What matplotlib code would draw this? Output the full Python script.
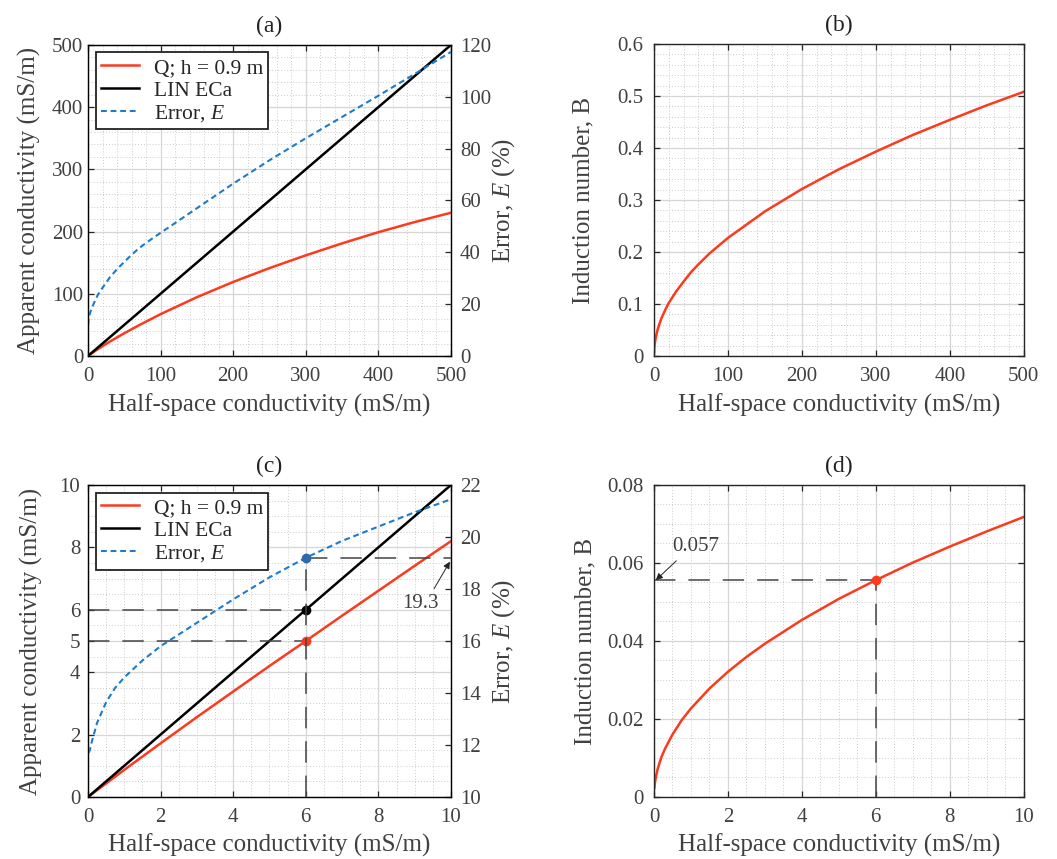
import matplotlib
matplotlib.use("Agg")
import matplotlib.pyplot as plt
from matplotlib.ticker import MultipleLocator, FixedLocator

# ---------------- data ----------------
# Panel (a): wide range 0-500 mS/m
sig_a = [0, 5, 10, 20, 30, 40, 50, 70, 100, 150, 200, 250, 300, 350, 400, 450, 500]
q_a = [0, 4.2, 8.2, 15.8, 23.0, 29.9, 36.55, 49.25, 67.25, 94.5, 119.0, 141.25, 161.75,
       181.0, 199.0, 215.25, 230.25]
lin_a_sig = [0, 500]
lin_a = [0, 500]
sig_err_a = [0.2, 1, 2, 5, 10, 14, 20, 30, 40, 50, 60, 70, 80, 90, 100, 150, 200, 250,
             300, 350, 400, 450, 500]
err_a = [12.0, 14.6, 15.8, 18.4, 21.5, 23.8, 26.3, 30.3, 33.5, 36.3, 39.0, 41.5, 43.6,
         45.6, 47.5, 57.0, 66.5, 75.5, 84.0, 92.2, 100.4, 108.8, 117.3]

# Panel (b): induction number 0-500 mS/m
sig_b = [0.1, 0.5, 1, 2, 3, 5, 7.5, 10, 15, 20, 30, 40, 50, 60, 75, 100, 150, 200, 250,
         300, 350, 400, 450, 500]
b_b = [0.007, 0.016, 0.023, 0.032, 0.039, 0.051, 0.062, 0.072, 0.088, 0.102, 0.124,
       0.143, 0.161, 0.176, 0.197, 0.227, 0.278, 0.321, 0.359, 0.393, 0.425, 0.454,
       0.482, 0.508]

# Panel (c): low range 0-10 mS/m
sig_c = [0, 1, 2, 3, 4, 5, 6, 7, 8, 9, 10]
q_c = [0, 0.87, 1.72, 2.56, 3.38, 4.2, 5.0, 5.81, 6.61, 7.41, 8.2]
lin_c_sig = [0, 10]
lin_c = [0, 10]
sig_err_c = [0.02, 0.05, 0.1, 0.25, 0.5, 0.75, 1, 1.5, 2, 2.5, 3, 3.5, 4, 5, 6, 7, 8, 9, 10]
err_c = [11.7, 11.8, 12.1, 12.85, 13.65, 14.2, 14.6, 15.25, 15.8, 16.25, 16.7, 17.15,
         17.6, 18.45, 19.2, 19.85, 20.4, 20.95, 21.45]

# Panel (d): induction number 0-10 mS/m
sig_d = [0.01, 0.025, 0.05, 0.1, 0.2, 0.3, 0.5, 0.75, 1, 1.5, 2, 2.5, 3, 4, 5, 6, 7, 8, 9, 10]
b_d = [0.0023, 0.0036, 0.005, 0.0072, 0.0102, 0.0124, 0.016, 0.0197, 0.0227, 0.0278,
       0.0321, 0.0359, 0.0393, 0.0454, 0.0508, 0.0556, 0.0601, 0.0642, 0.0681, 0.0718]

# highlighted point
sig_pt = 6
q_pt = 5
lin_pt = 6
err_pt = 19.2
b_pt = 0.0556
err_label = "19.3"
b_label = "0.057"

ticks_c_left = [0, 2, 4, 5, 6, 8, 10]

# ---------------- style ----------------
plt.rcParams['font.family'] = ['Liberation Serif', 'DejaVu Serif']
plt.rcParams['mathtext.fontset'] = 'custom'
plt.rcParams['mathtext.rm'] = 'Liberation Serif'
plt.rcParams['mathtext.it'] = 'Liberation Serif:italic'

RED = '#fc3b1e'
BLUE = '#1f7bc9'
TXT = '#404040'
DASHC = '#444444'
TICK_FS = 15
LAB_FS = 18
LEG_FS = 15.5
TITLE_FS = 17

fig = plt.figure(figsize=(10.57, 8.59), dpi=100)

pos_a = [0.08325, 0.5856, 0.3434, 0.3621]
pos_b = [0.6187, 0.5856, 0.3498, 0.3632]
pos_c = [0.08325, 0.0722, 0.3434, 0.3632]
pos_d = [0.6187, 0.0722, 0.3498, 0.3632]


def style_axes(ax, xmaj, xmin, ymaj, ymin, right=True, ypad=4):
    ax.xaxis.set_major_locator(MultipleLocator(xmaj))
    ax.xaxis.set_minor_locator(MultipleLocator(xmin))
    if ymaj is not None:
        ax.yaxis.set_major_locator(MultipleLocator(ymaj))
    ax.yaxis.set_minor_locator(MultipleLocator(ymin))
    ax.grid(True, which='major', color='#d6d6d6', lw=0.9, ls='-')
    ax.grid(True, which='minor', color='#cbcbcb', lw=0.7, ls=(0, (1, 2)))
    ax.set_axisbelow(True)
    ax.tick_params(which='major', direction='in', length=4, width=0.9,
                   top=True, right=right, labelsize=TICK_FS, labelcolor=TXT,
                   color='#262626')
    ax.tick_params(axis='x', which='major', pad=8)
    ax.tick_params(axis='y', which='major', pad=ypad)
    ax.tick_params(which='minor', length=0)
    for s in ax.spines.values():
        s.set_color('#262626')
        s.set_linewidth(1.0)


def set_labels(ax, xlabel, ylabel, title, xl_y, yl_x):
    ax.set_xlabel(xlabel, fontsize=LAB_FS, color=TXT)
    ax.set_ylabel(ylabel, fontsize=LAB_FS, color=TXT)
    ax.xaxis.set_label_coords(0.5, xl_y)
    ax.yaxis.set_label_coords(yl_x, 0.5)
    ax.xaxis.label.set_verticalalignment('center')
    ax.yaxis.label.set_verticalalignment('center')
    ax.set_title(title, fontsize=TITLE_FS, color='#222222', pad=9)


def make_legend(ax, handles):
    leg = ax.legend(handles, ['Q; h = 0.9 m', 'LIN ECa', 'Error, $\\mathit{E}$'],
                    loc='upper left', fontsize=LEG_FS, frameon=True, fancybox=False,
                    edgecolor='#222222', framealpha=1, borderaxespad=0.35,
                    handlelength=1.75, labelspacing=0.12, borderpad=0.25,
                    handletextpad=0.7)
    leg.get_frame().set_linewidth(1.3)
    for t in leg.get_texts():
        t.set_color('#262626')


def style_twin(ax2, step):
    ax2.yaxis.set_major_locator(MultipleLocator(step))
    ax2.tick_params(direction='in', length=4, width=0.9, labelsize=TICK_FS,
                    labelcolor=TXT, color='#262626', pad=6.5)


dash = dict(color=DASHC, lw=1.1, dashes=(14, 8.5))

# ---------------- (a) ----------------
ax = fig.add_axes(pos_a)
ax.set_xlim(0, 500)
ax.set_ylim(0, 500)
style_axes(ax, 100, 20, 100, 20, right=False, ypad=3.5)
l1, = ax.plot(sig_a, q_a, color=RED, lw=1.8)
l2, = ax.plot(lin_a_sig, lin_a, color='black', lw=1.8)
set_labels(ax, 'Half-space conductivity (mS/m)', 'Apparent conductivity (mS/m)', '(a)',
           -0.158, -0.160)
ax2 = ax.twinx()
ax2.set_ylim(0, 120)
style_twin(ax2, 20)
l3, = ax2.plot(sig_err_a, err_a, color=BLUE, lw=1.5, ls='--', dashes=(2.8, 1.8))
ax2.set_ylabel('Error, $\\mathit{E}$ (%)', fontsize=LAB_FS, color=TXT)
ax2.yaxis.set_label_coords(1.146, 0.5)
ax2.yaxis.label.set_verticalalignment('center')
make_legend(ax2, [l1, l2, l3])

# ---------------- (b) ----------------
ax = fig.add_axes(pos_b)
ax.set_xlim(0, 500)
ax.set_ylim(0, 0.6)
style_axes(ax, 100, 20, 0.1, 0.02, ypad=7.5)
ax.plot(sig_b, b_b, color=RED, lw=1.8)
ax.set_yticks([0, 0.1, 0.2, 0.3, 0.4, 0.5, 0.6])
ax.set_yticklabels(['0', '0.1', '0.2', '0.3', '0.4', '0.5', '0.6'])
set_labels(ax, 'Half-space conductivity (mS/m)', 'Induction number, B', '(b)',
           -0.158, -0.190)

# ---------------- (c) ----------------
ax = fig.add_axes(pos_c)
ax.set_xlim(0, 10)
ax.set_ylim(0, 10)
style_axes(ax, 2, 0.5, None, 0.5, right=False, ypad=5.5)
ax.yaxis.set_major_locator(FixedLocator(ticks_c_left))
l1, = ax.plot(sig_c, q_c, color=RED, lw=1.8)
l2, = ax.plot(lin_c_sig, lin_c, color='black', lw=1.8)
ax.plot([0, sig_pt], [lin_pt, lin_pt], **dash)
ax.plot([0, sig_pt], [q_pt, q_pt], **dash)
ax.plot([sig_pt], [lin_pt], 'o', color='black', ms=6)
ax.plot([sig_pt], [q_pt], 'o', color=RED, ms=6)
set_labels(ax, 'Half-space conductivity (mS/m)', 'Apparent conductivity (mS/m)', '(c)',
           -0.154, -0.155)
ax2 = ax.twinx()
ax2.set_ylim(10, 22)
style_twin(ax2, 2)
l3, = ax2.plot(sig_err_c, err_c, color=BLUE, lw=1.5, ls='--', dashes=(2.8, 1.8))
ax2.plot([sig_pt, sig_pt], [10, err_pt], **dash)
ax2.plot([sig_pt, 10], [err_pt, err_pt], **dash)
ax2.plot([sig_pt], [err_pt], 'o', color='#2f6aa8', ms=6)
ax2.annotate(err_label, xy=(9.97, 19.05), xytext=(9.15, 17.45), ha='center', va='center',
             fontsize=TICK_FS, color=TXT,
             arrowprops=dict(arrowstyle='-|>', color='#222222', lw=0.7,
                             mutation_scale=10, shrinkA=2, shrinkB=0,
                             relpos=(0.8, 1.0)))
ax2.set_ylabel('Error, $\\mathit{E}$ (%)', fontsize=LAB_FS, color=TXT)
ax2.yaxis.set_label_coords(1.146, 0.5)
ax2.yaxis.label.set_verticalalignment('center')
make_legend(ax2, [l1, l2, l3])

# ---------------- (d) ----------------
ax = fig.add_axes(pos_d)
ax.set_xlim(0, 10)
ax.set_ylim(0, 0.08)
style_axes(ax, 2, 0.5, 0.02, 0.005, ypad=7.5)
ax.set_yticks([0, 0.02, 0.04, 0.06, 0.08])
ax.set_yticklabels(['0', '0.02', '0.04', '0.06', '0.08'])
ax.plot(sig_d, b_d, color=RED, lw=1.8)
ax.plot([0, sig_pt], [b_pt, b_pt], **dash)
ax.plot([sig_pt, sig_pt], [0, b_pt], **dash)
ax.plot([sig_pt], [b_pt], 'o', color=RED, ms=6)
ax.annotate(b_label, xy=(0.05, b_pt), xytext=(1.12, 0.0642), ha='center', va='center',
            fontsize=TICK_FS, color=TXT,
            arrowprops=dict(arrowstyle='-|>', color='#222222', lw=0.7,
                            mutation_scale=10, shrinkA=2, shrinkB=0,
                            relpos=(0.2, 0.0)))
set_labels(ax, 'Half-space conductivity (mS/m)', 'Induction number, B', '(d)',
           -0.154, -0.186)

fig.savefig('out.png', dpi=100)
